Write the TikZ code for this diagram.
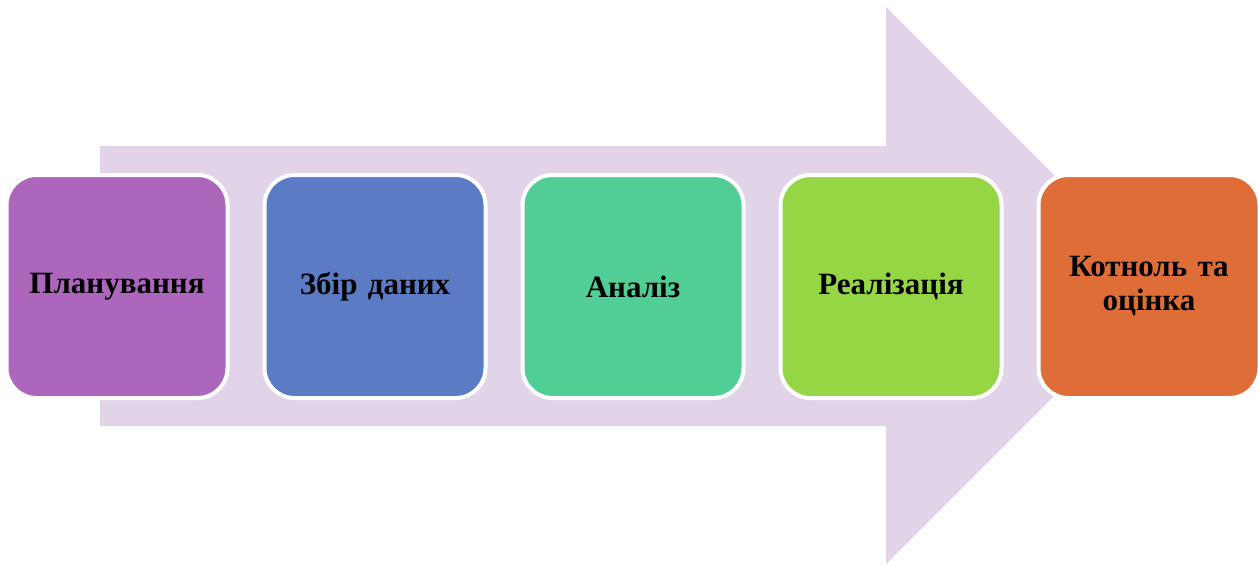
\documentclass[tikz,border=0pt]{standalone}
\usepackage{fontspec}
\setmainfont{Liberation Serif}
\begin{document}
\begin{tikzpicture}[x=1pt,y=-1pt,
  stage/.style={draw=white, line width=4pt, rounded corners=30pt,
    minimum width=221pt, minimum height=223pt, inner sep=0pt,
    text width=200pt, align=center,
    font=\fontsize{31}{34}\selectfont\bfseries},
]
\definecolor{arrowc}{HTML}{E2D4E8}
\definecolor{c1}{HTML}{AC66BB}
\definecolor{c2}{HTML}{5B7BC4}
\definecolor{c3}{HTML}{51CD96}
\definecolor{c4}{HTML}{95D645}
\definecolor{c5}{HTML}{DF6D37}
\useasboundingbox (0,0) rectangle (1258,565);
\fill[arrowc] (100,146) -- (886,146) -- (886,7) -- (1164.5,285.5) -- (886,564) -- (886,426) -- (100,426) -- cycle;
\node[stage, fill=c1] (s1) at (117,286.5) {Планування};
\node[stage, fill=c2] (s2) at (375,286.5) {Збір даних};
\node[stage, fill=c3] (s3) at (633,286.5) {Аналіз};
\node[stage, fill=c4] (s4) at (891,286.5) {Реалізація};
\node[stage, fill=c5] (s5) at (1149,286.5) {Котноль та\\оцінка};
\end{tikzpicture}
\end{document}
